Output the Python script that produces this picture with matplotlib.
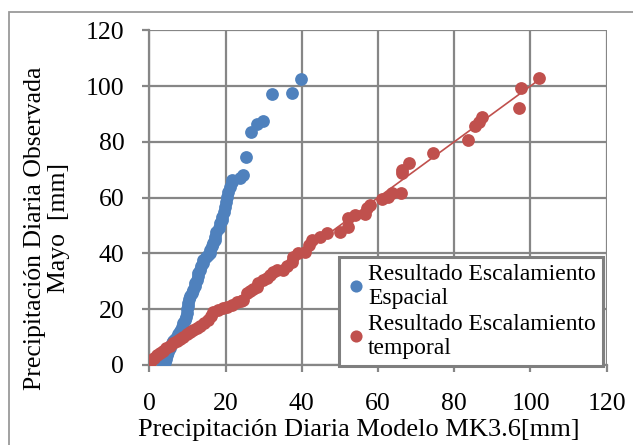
import matplotlib
matplotlib.use("Agg")
import matplotlib.pyplot as plt
from matplotlib.patches import Rectangle

# Resultado Escalamiento Espacial (x = modelo, y = observada)
espacial_x = [3.7, 3.9, 4.2, 4.5, 4.6, 5.0, 5.4, 5.9, 6.3, 6.8, 7.2, 7.6, 8.0, 8.5,
              8.9, 9.3, 9.6, 9.8, 10.0, 10.1, 10.2, 10.4, 10.6, 11.1, 11.5, 12.0,
              12.0, 12.4, 12.9, 12.9, 13.2, 13.5, 14.2, 14.2, 14.8, 15.4, 15.9, 15.9,
              16.4, 16.8, 17.2, 17.2, 17.6, 18.2, 18.6, 19.0, 19.0, 19.5, 19.9, 20.2,
              20.5, 20.7, 21.2, 21.6, 21.6, 23.8, 24.5, 25.4, 26.6, 28.3, 29.8, 32.3,
              37.5, 39.9]
espacial_y = [0.0, 0.5, 1.2, 2.2, 3.6, 4.8, 6.0, 7.8, 8.6, 9.4, 10.1, 11.2, 12.3, 13.6,
              14.9, 16.0, 17.2, 18.5, 20.0, 21.2, 22.1, 23.5, 24.6, 25.7, 27.0, 28.3,
              29.3, 30.5, 31.8, 32.9, 34.0, 35.5, 36.5, 37.6, 38.7, 39.5, 40.0, 41.2,
              42.5, 43.8, 44.8, 46.0, 47.5, 49.2, 50.8, 52.0, 53.2, 55.0, 56.7, 58.5,
              60.3, 62.1, 63.9, 65.5, 66.3, 66.9, 68.1, 74.6, 83.6, 86.4, 87.6, 97.2,
              97.6, 102.4]

# Resultado Escalamiento temporal
temporal_x = [0.0, 0.2, 0.5, 1.2, 2.0, 2.8, 3.6, 4.5, 5.4, 6.3, 7.2, 8.0, 8.9, 9.8,
              10.6, 11.5, 12.4, 13.3, 14.3, 15.5, 16.2, 16.8, 18.0, 19.2, 20.3, 21.6,
              22.9, 24.0, 24.7, 25.6, 26.4, 27.3, 28.2, 28.6, 29.9, 30.8, 31.7, 32.5,
              33.4, 35.2, 36.0, 37.4, 37.8, 39.1, 40.9, 42.0, 42.6, 44.8, 46.7, 49.9,
              52.0, 52.2, 54.0, 56.6, 57.1, 57.9, 61.0, 62.7, 63.6, 66.0, 66.2, 66.4,
              68.0, 74.4, 83.5, 85.5, 86.4, 87.4, 97.1, 97.6, 102.3]
temporal_y = [0.0, 1.0, 1.8, 2.6, 3.5, 4.4, 5.0, 6.0, 6.8, 7.8, 8.6, 9.3, 10.1, 11.0,
              11.8, 12.5, 13.1, 14.0, 15.0, 16.1, 17.5, 19.1, 19.8, 20.3, 20.9, 21.5,
              22.7, 23.0, 23.3, 25.7, 26.5, 27.3, 28.1, 29.3, 30.5, 31.3, 32.3, 33.3,
              34.1, 34.1, 35.5, 37.0, 38.8, 40.0, 40.6, 43.0, 44.8, 46.0, 47.2, 47.8,
              49.6, 52.6, 53.8, 54.1, 56.2, 57.3, 59.4, 60.3, 61.5, 61.8, 68.7, 69.9,
              72.5, 76.1, 80.6, 85.8, 87.2, 88.8, 92.2, 99.4, 102.8]

linea_x = [0.0, 102.3]
linea_y = [0.0, 102.3]

ticks = [0, 20, 40, 60, 80, 100, 120]

plt.rcParams["font.family"] = ["Liberation Serif", "DejaVu Serif"]

fig = plt.figure(figsize=(6.33, 4.45), dpi=100)
ax = fig.add_axes([0.2359, 0.1798, 0.7226, 0.7523])

grid_color = "#868686"
blue = "#4F81BD"
red = "#C0504D"

ax.plot(linea_x, linea_y, color=red, lw=1.2, zorder=2)
ax.plot(espacial_x, espacial_y, "o", color=blue, ms=9.2, mec="none", zorder=3,
        label="Resultado Escalamiento\nEspacial")
ax.plot(temporal_x, temporal_y, "o", color=red, ms=9.2, mec="none", zorder=3,
        label="Resultado Escalamiento\ntemporal")

ax.set_xlim(0, 120)
ax.set_ylim(0, 120)
ax.set_xticks(ticks)
ax.set_yticks(ticks)
ax.grid(True, color=grid_color, lw=1.6)
ax.set_axisbelow(True)
for side in ["left", "bottom"]:
    ax.spines[side].set_color(grid_color)
    ax.spines[side].set_linewidth(1.6)
ax.spines["top"].set_visible(False)
ax.spines["right"].set_visible(False)
ax.tick_params(axis="both", direction="out", length=5, width=1.6, color=grid_color,
               labelsize=18.5)
ax.tick_params(axis="y", pad=13)
ax.tick_params(axis="x", pad=15)

ax.set_xlabel("Precipitación Diaria Modelo MK3.6[mm]", fontsize=19, va="center")
ax.xaxis.set_label_coords(0.4585, -0.195)
ax.set_ylabel("Precipitación Diaria Observada\nMayo  [mm]", fontsize=18.5,
              va="center", linespacing=1.1)
ax.yaxis.set_label_coords(-0.224, 0.409)

leg = ax.legend(loc="lower right", bbox_to_anchor=(0.992, -0.004), fontsize=17,
                frameon=True, fancybox=False, handletextpad=0.05, handlelength=0.9,
                borderpad=0.3, borderaxespad=0.0, labelspacing=0.2,
                markerscale=0.95)
for text in leg.get_texts():
    text.set_linespacing(1.2)
leg.get_frame().set_edgecolor("#7F7F7F")
leg.get_frame().set_linewidth(2.2)
leg.get_frame().set_alpha(1)

fig.patches.append(Rectangle((9 / 633, -0.1), 1.2, 1 - 12 / 445 + 0.1,
                             transform=fig.transFigure, fill=False,
                             edgecolor="#9A9A9A", lw=1.3))

fig.savefig("out.png", dpi=100)
